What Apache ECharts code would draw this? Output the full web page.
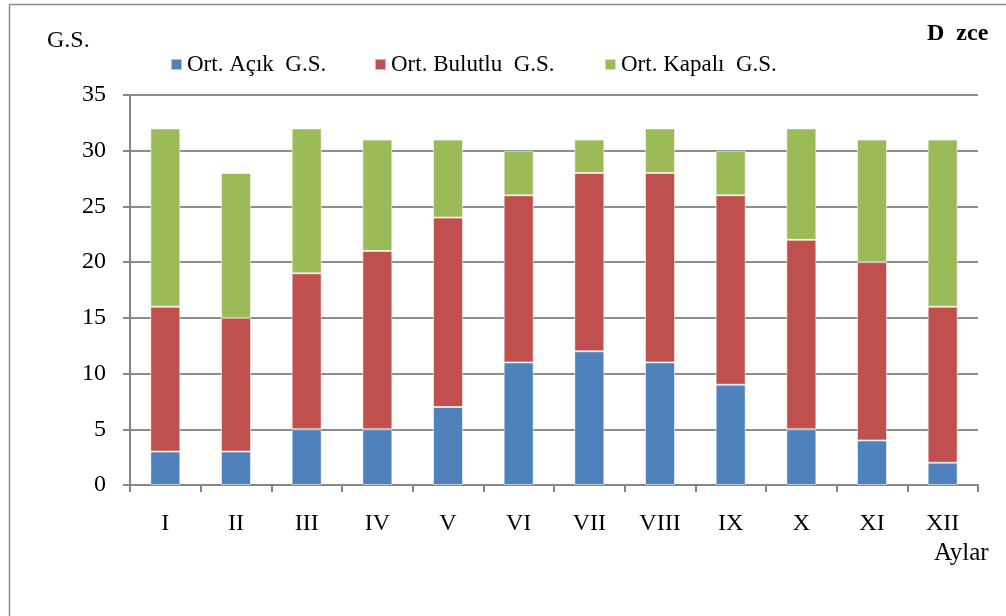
<!DOCTYPE html>
<html>
<head>
<meta charset="utf-8">
<script src="https://cdn.jsdelivr.net/npm/echarts@6/dist/echarts.min.js"></script>
<style>
    html, body { margin: 0; padding: 0; background: #fff; }
    #chart { width: 1006px; height: 616px; }
</style>
</head>
<body>
<div id="chart"></div>
<script>
    // aylar (months)
    const months = ["I", "II", "III", "IV", "V", "VI", "VII", "VIII", "IX", "X", "XI", "XII"];
    const seriesNames = ["Ort. Açık  G.S.", "Ort. Bulutlu  G.S.", "Ort. Kapalı  G.S."];
    // gün sayısı (day counts), stacked
    const acik = [3, 3, 5, 5, 7, 11, 12, 11, 9, 5, 4, 2];
    const bulutlu = [13, 12, 14, 16, 17, 15, 16, 17, 17, 17, 16, 14];
    const kapali = [16, 13, 13, 10, 7, 4, 3, 4, 4, 10, 11, 15];
    const yTicks = [0, 5, 10, 15, 20, 25, 30, 35];

    const font = "Liberation Serif";
    const colors = ["#4F81BD", "#C0504D", "#9BBB59"];
    const legendLeft = [165, 369, 599];

    let myChart = echarts.init(document.getElementById("chart"));

    let option = {
        backgroundColor: "#fff",
        animation: false,
        color: colors,
        grid: {
            left: 130,
            right: 28,
            top: 95,
            bottom: 131,
        },
        legend: seriesNames.map((name, i) => ({
            data: [name],
            left: legendLeft[i],
            top: 48,
            icon: "rect",
            itemWidth: 11,
            itemHeight: 11,
            itemGap: 6,
            textStyle: {
                fontFamily: font,
                fontSize: 23,
                color: "#000",
            },
        })),
        graphic: [
            {
                // outer frame
                type: "rect",
                shape: {x: 9.5, y: 4.5, width: 1100, height: 700},
                style: {fill: null, stroke: "#8c8c8c", lineWidth: 1.5},
                silent: true,
            },
            {
                type: "text",
                left: 47,
                top: 29,
                style: {text: "G.S.", font: "24px 'Liberation Serif'", fill: "#000"},
            },
            {
                type: "text",
                left: 927,
                top: 22,
                style: {text: "D  zce", font: "bold 24px 'Liberation Serif'", fill: "#000"},
            },
            {
                type: "text",
                left: 934,
                top: 541,
                style: {text: "Aylar", font: "25px 'Liberation Serif'", fill: "#000"},
            },
        ],
        xAxis: {
            type: "category",
            data: months,
            axisLine: {
                lineStyle: {color: "#868686", width: 2},
            },
            axisTick: {
                show: true,
                length: 7,
                lineStyle: {color: "#868686", width: 2},
            },
            axisLabel: {
                margin: 27,
                fontFamily: font,
                fontSize: 24,
                color: "#000",
            },
        },
        yAxis: {
            type: "value",
            min: yTicks[0],
            max: yTicks[yTicks.length - 1],
            interval: 5,
            axisLine: {
                show: true,
                lineStyle: {color: "#868686", width: 2},
            },
            axisTick: {
                show: true,
                length: 7,
                lineStyle: {color: "#868686", width: 2},
            },
            splitLine: {
                show: true,
                lineStyle: {color: "#8c8c8c", width: 2},
            },
            axisLabel: {
                margin: 24,
                fontFamily: font,
                fontSize: 24,
                color: "#000",
            },
        },
        series: [acik, bulutlu, kapali].map((vals, i) => ({
            name: seriesNames[i],
            type: "bar",
            stack: "gs",
            barWidth: 30,
            data: vals,
            itemStyle: {
                color: colors[i],
                borderColor: "rgba(255,255,255,0.55)",
                borderWidth: 1,
            },
        })),
    };

    option && myChart.setOption(option);
</script>
</body>
</html>
